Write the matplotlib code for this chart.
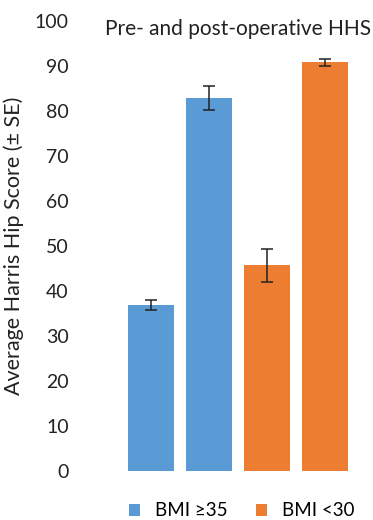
import matplotlib
matplotlib.use("Agg")
import matplotlib.pyplot as plt
from matplotlib.patches import Patch

plt.rcParams['font.family'] = ['Lato', 'DejaVu Sans']

# Datos
groups = ['BMI ≥35', 'BMI <30']
bar_labels = ['Pre-op BMI ≥35', 'Post-op BMI ≥35', 'Pre-op BMI <30', 'Post-op BMI <30']
hhs_mean = [36.9, 82.9, 45.7, 90.8]
hhs_se = [1.2, 2.7, 3.6, 0.8]
bar_group = [0, 0, 1, 1]
group_colors = ['#5B9BD5', '#ED7D31']
y_ticks = [0, 10, 20, 30, 40, 50, 60, 70, 80, 90, 100]

fig = plt.figure(figsize=(3.73, 5.2), dpi=100)
ax = fig.add_axes([80 / 373, 49 / 520, 281 / 373, 450 / 520])

x = list(range(len(hhs_mean)))
colors = [group_colors[g] for g in bar_group]
ax.bar(x, hhs_mean, width=0.79, color=colors, zorder=2)
ax.errorbar(x, hhs_mean, yerr=hhs_se, fmt='none', ecolor='#222222',
            elinewidth=1.1, capsize=4.5, capthick=1.1, zorder=3)

ax.set_xlim(-1.22, 3.62)
ax.set_ylim(0, 100)
ax.set_yticks(y_ticks)
ax.set_yticklabels([str(t) for t in y_ticks], fontsize=14, color='#222222')
ax.set_xticks([])
ax.tick_params(axis='y', length=0, pad=8)
for s in ax.spines.values():
    s.set_visible(False)

ax.set_ylabel('Average Harris Hip Score (± SE)', fontsize=15.5, color='#222222', labelpad=8)

# Titulo dentro del area del grafico
fig.text(238 / 373, 1 - 29 / 520, 'Pre- and post-operative HHS', ha='center', va='center',
         fontsize=15, color='#222222')

handles = [Patch(facecolor=c, edgecolor='none') for c in group_colors]
fig.legend(handles, groups, loc='center', bbox_to_anchor=(242 / 373, 1 - 511 / 520),
           ncol=2, frameon=False, fontsize=13.5, handlelength=0.6, handleheight=0.6,
           columnspacing=1.5, handletextpad=0.8)

fig.savefig('out.png', dpi=100)
